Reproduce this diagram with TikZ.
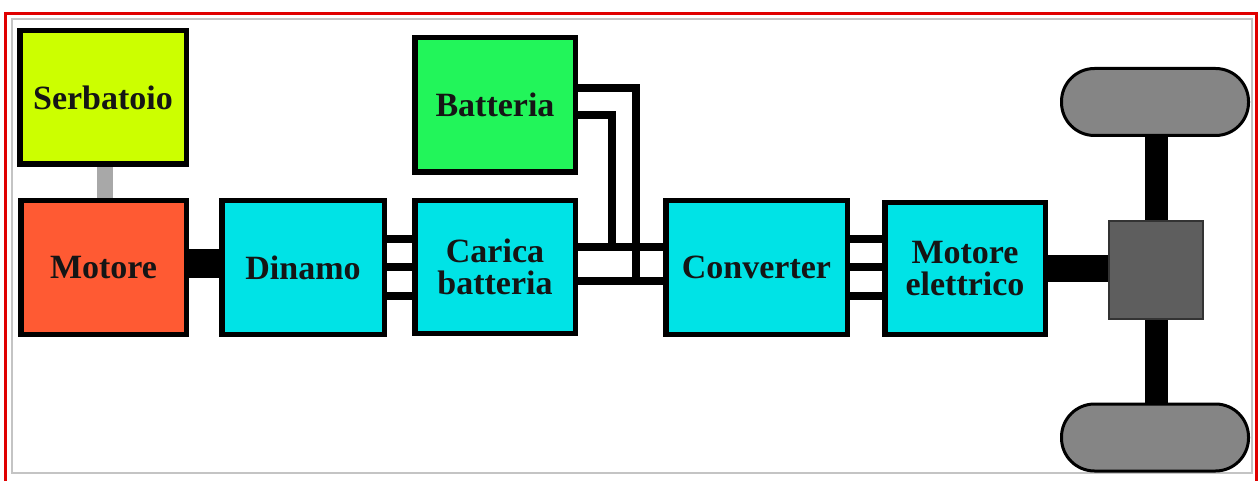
\documentclass[tikz,border=0pt]{standalone}
\usepackage{fontspec}
\setmainfont{Liberation Serif}
\usetikzlibrary{backgrounds}
\definecolor{serbc}{HTML}{CCFF00}
\definecolor{motc}{HTML}{FF5A33}
\definecolor{cyanc}{HTML}{00E3E6}
\definecolor{batc}{HTML}{22F55A}
\definecolor{gearc}{HTML}{5E5E5E}
\definecolor{wheelc}{HTML}{858585}
\definecolor{pipec}{HTML}{A8A8A8}
\definecolor{txtc}{HTML}{151515}
\definecolor{framered}{HTML}{E00000}
\definecolor{framegrey}{HTML}{C4C4C4}
\begin{document}
\begin{tikzpicture}[x=1pt,y=-1pt,
  blk/.style={draw=black, line width=5.5pt, fill=#1, text=txtc,
    font=\bfseries\fontsize{34}{32}\selectfont, align=center, inner sep=0pt},
  wire/.style={line width=8.5pt, black, line join=miter},
  shaft/.style={line width=#1, black},
  wheel/.style={draw=black, line width=3pt, fill=wheelc, rounded corners=33pt,
    minimum width=187pt, minimum height=67pt, inner sep=0pt},
  gearbox/.style={draw=black!80, line width=2pt, fill=gearc,
    minimum width=94pt, minimum height=98pt, inner sep=0pt}]
\useasboundingbox (0,0) rectangle (1258,481);
% frames
\draw[framered, line width=3pt] (5.5,13.5) rectangle (1256.5,490);
\draw[framegrey, line width=1.5pt] (12,19) rectangle (1252,473);
% blocks
\node[blk=serbc, minimum width=166.5pt, minimum height=133.5pt] (serb) at (103,97.5) {Serbatoio};
\node[blk=motc, minimum width=165.5pt, minimum height=133.5pt] (mot) at (103.5,267.5) {Motore};
\node[blk=cyanc, minimum width=162.5pt, minimum height=133.5pt] (din) at (303,267.5) {Dinamo};
\node[blk=cyanc, minimum width=160.5pt, minimum height=132.5pt] (car) at (495,267) {Carica\\batteria};
\node[blk=batc, minimum width=160.5pt, minimum height=134.5pt] (bat) at (495,105) {Batteria};
\node[blk=cyanc, minimum width=181.5pt, minimum height=133.5pt] (conv) at (756.5,267.5) {Converter};
\node[blk=cyanc, minimum width=160.5pt, minimum height=131.5pt] (mel) at (965,268.5) {Motore\\elettrico};
\node[gearbox] (gear) at (1156,270) {};
\node[wheel] (wt) at (1155,102) {};
\node[wheel] (wb) at (1155,437.5) {};
\coordinate (j1) at (636,281);
\coordinate (j2) at (612,247);
% connectors
\begin{scope}[on background layer]
\draw[pipec, line width=16pt] ([xshift=2pt]serb.south) -- ([xshift=2pt]serb.south |- mot.north);
\draw[shaft=29pt] ([yshift=4pt]mot.east) -- ([yshift=4pt]mot.east -| din.west);
\foreach \s in {28.5,0.5,-28.5}{
  \draw[wire] ([yshift=\s pt]din.east) -- ([yshift=\s pt]din.east -| car.west);
  \draw[wire] ([yshift=\s pt]conv.east) -- ([yshift=\s pt]conv.east -| mel.west);
}
\draw[wire] ([yshift=20pt]car.east) -- ([yshift=20pt]car.east -| conv.west);
\draw[wire] ([yshift=-14pt]car.east) -- ([yshift=-14pt]car.east -| conv.west);
\draw[wire] ([yshift=17pt]bat.east) -| (j1);
\draw[wire] ([yshift=-10pt]bat.east) -| (j2);
\draw[shaft=27pt] (mel.east) -- (mel.east -| gear.west);
\draw[shaft=23pt] ([xshift=1.5pt]wt.south) -- ([xshift=1.5pt]wb.north);
\end{scope}
\end{tikzpicture}
\end{document}
